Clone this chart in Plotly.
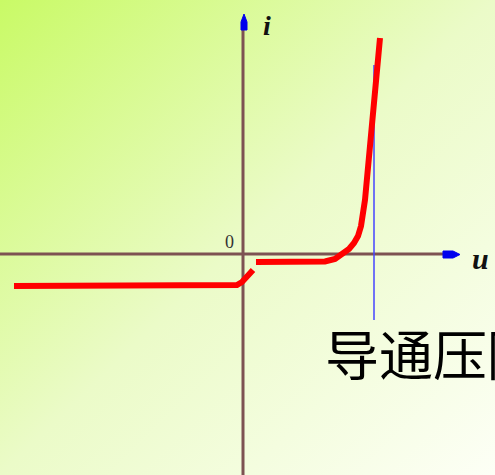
import base64
import plotly.graph_objects as go

# ---- data (u, i in arbitrary units, origin at axis crossing) ----
rev_u = [-2.29, -0.11, -0.06, -0.01, 0.04, 0.10]
rev_i = [-0.32, -0.32, -0.31, -0.28, -0.23, -0.16]
fwd_u = [0.13, 0.69, 0.82, 0.92, 1.00, 1.06, 1.11, 1.15, 1.18, 1.20, 1.22, 1.37]
fwd_i = [-0.08, -0.08, -0.075, -0.05, 0.00, 0.05, 0.11, 0.18, 0.28, 0.41, 0.54, 2.16]
u_on = 1.31
u_on_span = [-0.66, 1.89]
axis_u = [-2.43, 2.00]
axis_i = [-2.21, 2.24]
x_range = [-2.43, 2.52]
y_range = [-2.21, 2.54]
label_u = "u"
label_i = "i"
label_0 = "0"
label_drop = "导通压降"

svg = ('<svg xmlns="http://www.w3.org/2000/svg" width="495" height="475">'
       '<defs><linearGradient id="g" x1="0" y1="0" x2="1" y2="1">'
       '<stop offset="0" stop-color="#c9fa66"/>'
       '<stop offset="0.5" stop-color="#ebfbc8"/>'
       '<stop offset="1" stop-color="#fdfff6"/>'
       '</linearGradient></defs>'
       '<rect width="495" height="475" fill="url(#g)"/></svg>')
bg = "data:image/svg+xml;base64," + base64.b64encode(svg.encode()).decode()

fig = go.Figure()
fig.add_trace(go.Scatter(x=rev_u, y=rev_i, mode="lines",
                         line=dict(color="#ff0000", width=6), hoverinfo="skip"))
fig.add_trace(go.Scatter(x=fwd_u, y=fwd_i, mode="lines",
                         line=dict(color="#ff0000", width=6), hoverinfo="skip"))

axis_col = "#7d5252"
shapes = [
    dict(type="line", x0=0, x1=0, y0=axis_i[0], y1=axis_i[1],
         line=dict(color=axis_col, width=3), layer="below"),
    dict(type="line", x0=axis_u[0], x1=axis_u[1], y0=0, y1=0,
         line=dict(color=axis_col, width=3), layer="below"),
    dict(type="line", x0=u_on, x1=u_on, y0=u_on_span[0], y1=u_on_span[1],
         line=dict(color="#4444ff", width=1.5), layer="below"),
    # arrow heads
    dict(type="path",
         path=f"M 0.01 2.40 L 0.04 2.32 L 0.04 {axis_i[1]} L -0.02 {axis_i[1]} L -0.02 2.32 Z",
         fillcolor="#0000ee", line=dict(color="#0000ee", width=1)),
    dict(type="path",
         path=f"M {axis_u[1]} 0.03 L 2.10 0.03 L 2.17 -0.005 L 2.10 -0.04 L {axis_u[1]} -0.04 Z",
         fillcolor="#0000ee", line=dict(color="#0000ee", width=1)),
]

annotations = [
    dict(x=0.24, y=2.29, text=f"<b><i>{label_i}</i></b>", showarrow=False,
         font=dict(family="Liberation Serif", size=28, color="#111")),
    dict(x=2.37, y=-0.04, text=f"<b><i>{label_u}</i></b>", showarrow=False,
         font=dict(family="Liberation Serif", size=30, color="#111")),
    dict(x=-0.14, y=0.12, text=label_0, showarrow=False,
         font=dict(family="Liberation Serif", size=18, color="#333")),
    dict(x=0.80, y=-0.98, text=label_drop, showarrow=False, xanchor="left",
         font=dict(family="Noto Sans CJK SC", size=54, color="#000")),
]

fig.update_layout(
    width=495, height=475, margin=dict(l=0, r=0, t=0, b=0),
    paper_bgcolor="rgba(0,0,0,0)", plot_bgcolor="rgba(0,0,0,0)",
    showlegend=False,
    xaxis=dict(range=x_range, visible=False, fixedrange=True),
    yaxis=dict(range=y_range, visible=False, fixedrange=True),
    shapes=shapes, annotations=annotations,
    images=[dict(source=bg, xref="paper", yref="paper", x=0, y=1,
                 sizex=1, sizey=1, sizing="stretch", layer="below",
                 xanchor="left", yanchor="top")],
)
fig.write_html("out.html", config={"displayModeBar": False},
               post_script="document.body.style.margin='0';document.body.style.overflow='hidden';")
